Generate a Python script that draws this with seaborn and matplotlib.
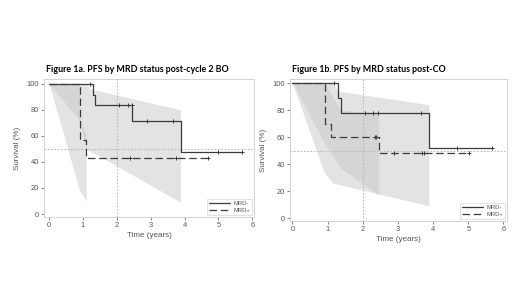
import matplotlib
matplotlib.use("Agg")
import matplotlib.pyplot as plt
import numpy as np
import pandas as pd
import seaborn as sns

# ---- Figure 1a data (post-cycle 2 BO) ----
a_neg_t = [0, 1.30, 1.37, 2.45, 3.88, 5.70]
a_neg_s = [100, 91.7, 83.3, 71.4, 47.6, 47.6]
a_neg_cens_t = [1.20, 2.05, 2.33, 2.45, 2.90, 3.65, 5.00, 5.70]
a_neg_cens_s = [100, 83.3, 83.3, 83.3, 71.4, 71.4, 47.6, 47.6]
a_pos_t = [0, 0.90, 1.09, 4.68]
a_pos_s = [100, 57.1, 42.9, 42.9]
a_pos_cens_t = [2.38, 3.75, 4.68]
a_pos_cens_s = [42.9, 42.9, 42.9]
a_neg_band_t = [0, 0.90, 1.10, 1.20, 1.38, 3.88]
a_neg_band_lo = [100, 72, 50, 48, 46, 9]
a_neg_band_hi = [100, 100, 100, 96, 95, 80]
a_pos_band_t = [0, 0.90, 0.90, 1.10]
a_pos_band_lo = [100, 18, 18, 10]
a_pos_band_hi = [100, 100, 75, 60]

# ---- Figure 1b data (post-CO) ----
b_neg_t = [0, 1.30, 1.37, 3.88, 5.68]
b_neg_s = [100, 88.9, 77.8, 51.9, 51.9]
b_neg_cens_t = [1.18, 2.05, 2.30, 2.42, 3.65, 4.68, 5.68]
b_neg_cens_s = [100, 77.8, 77.8, 77.8, 77.8, 51.9, 51.9]
b_pos_t = [0, 0.92, 1.10, 2.45, 5.02]
b_pos_s = [100, 70.0, 60.0, 48.0, 48.0]
b_pos_cens_t = [2.35, 2.38, 2.90, 3.68, 3.75, 5.02]
b_pos_cens_s = [60.0, 60.0, 48.0, 48.0, 48.0, 48.0]
b_neg_band_t = [0, 0.90, 1.13, 1.30, 3.88]
b_neg_band_lo = [100, 34, 26, 25, 9]
b_neg_band_hi = [100, 100, 100, 94, 84]
b_pos_band_t = [0, 0.92, 1.37, 2.45]
b_pos_band_lo = [100, 55, 37, 17]
b_pos_band_hi = [100, 100, 80, 77]

titles = ["Figure 1a. PFS by MRD status post-cycle 2 BO",
          "Figure 1b. PFS by MRD status post-CO"]
groups = ["MRD-", "MRD+"]
x_ticks = [0, 1, 2, 3, 4, 5, 6]
y_ticks = [0, 20, 40, 60, 80, 100]

sns.set_theme(style="white")
plt.rcParams["font.family"] = ["Liberation Sans", "DejaVu Sans"]

fig = plt.figure(figsize=(5.2, 2.92), dpi=100)
ax_a = fig.add_axes([44 / 520, (292 - 217) / 292, (254 - 44) / 520, (217 - 79) / 292])
ax_b = fig.add_axes([290 / 520, (292 - 221) / 292, (507 - 290) / 520, (221 - 79) / 292])

line_col = "#3a3a3a"
band_col = "#c8c8c8"
text_col = "#555555"


def step_df(t_neg, s_neg, t_pos, s_pos):
    return pd.concat([
        pd.DataFrame({"time": t_neg, "surv": s_neg, "group": groups[0]}),
        pd.DataFrame({"time": t_pos, "surv": s_pos, "group": groups[1]}),
    ])


panels = [
    (ax_a, titles[0],
     step_df(a_neg_t, a_neg_s, a_pos_t, a_pos_s),
     step_df(a_neg_cens_t, a_neg_cens_s, a_pos_cens_t, a_pos_cens_s),
     [(a_neg_band_t, a_neg_band_lo, a_neg_band_hi), (a_pos_band_t, a_pos_band_lo, a_pos_band_hi)],
     (-0.15, 6.05), (-2.3, 103.6)),
    (ax_b, titles[1],
     step_df(b_neg_t, b_neg_s, b_pos_t, b_pos_s),
     step_df(b_neg_cens_t, b_neg_cens_s, b_pos_cens_t, b_pos_cens_s),
     [(b_neg_band_t, b_neg_band_lo, b_neg_band_hi), (b_pos_band_t, b_pos_band_lo, b_pos_band_hi)],
     (-0.07, 6.1), (-2.2, 103)),
]

for ax, title, curves, cens, bands, xlim, ylim in panels:
    for bt, lo, hi in bands:
        ax.fill_between(bt, lo, hi, color=band_col, alpha=0.5, linewidth=0, zorder=1)

    # reference lines at 50% survival and 2 years
    ax.axhline(50, color="#bbbbbb", linestyle=(0, (1.5, 1.5)), linewidth=0.8, zorder=2)
    ax.axvline(2, color="#bbbbbb", linestyle=(0, (1.5, 1.5)), linewidth=0.8, zorder=2)

    sns.lineplot(data=curves, x="time", y="surv", style="group", style_order=groups,
                 dashes={"MRD-": "", "MRD+": (6, 3)}, color=line_col, linewidth=0.9,
                 drawstyle="steps-post", estimator=None, sort=False, ax=ax, zorder=3)
    sns.scatterplot(data=cens, x="time", y="surv", marker="+", color=line_col, s=12,
                    linewidth=0.7, ax=ax, zorder=4, legend=False)

    ax.set_xlim(*xlim)
    ax.set_ylim(*ylim)
    ax.set_xticks(x_ticks)
    ax.set_yticks(y_ticks)
    ax.tick_params(axis="both", labelsize=5.4, colors=text_col, length=2, width=0.5, pad=1.5,
                   bottom=True, left=True)
    ax.set_xlabel("Time (years)", fontsize=5.8, color=text_col, labelpad=2)
    ax.set_ylabel("Survival (%)", fontsize=5.8, color=text_col, labelpad=4)
    for sp in ax.spines.values():
        sp.set_color("#cccccc")
        sp.set_linewidth(0.6)

    ax.set_title(title, loc="left", fontsize=6.4, fontweight="bold", color="black",
                 family=["Lato", "DejaVu Sans"], pad=5, x=0.01)

    handles, labels = ax.get_legend_handles_labels()
    leg = ax.legend(handles=handles, labels=labels, loc="lower right", fontsize=4.2,
                    frameon=True, handlelength=3.5, borderpad=0.4, labelspacing=0.3,
                    handletextpad=0.6, borderaxespad=0.3)
    leg.get_frame().set_edgecolor("#cccccc")
    leg.get_frame().set_linewidth(0.5)
    leg.get_frame().set_boxstyle("square", pad=0)
    for t in leg.get_texts():
        t.set_color(text_col)

fig.savefig("out.png", dpi=100)
